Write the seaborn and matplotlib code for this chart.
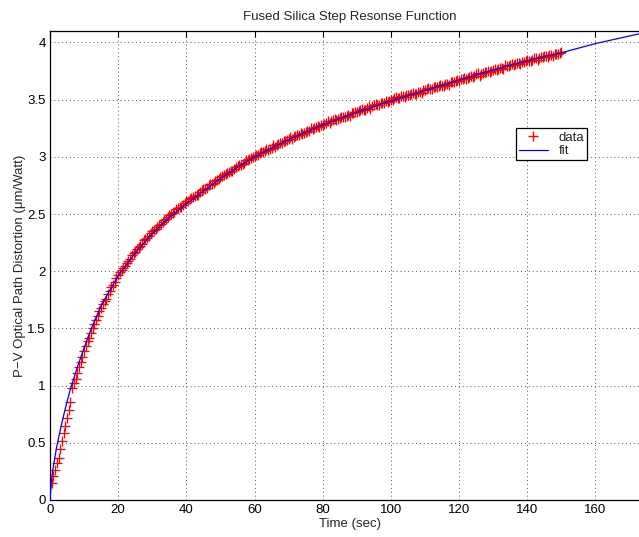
import numpy as np
import pandas as pd
import seaborn as sns
import matplotlib.pyplot as plt
from matplotlib.lines import Line2D

# measured step response, first pass of samples (t = 0.5 ... 149.5 s)
t_data_a = [0.5, 1.5, 2.5, 3.5, 4.5, 5.5, 6.5, 7.5, 8.5, 9.5,
            10.5, 11.5, 12.5, 13.5, 14.5, 15.5, 16.5, 17.5, 18.5, 19.5,
            20.5, 21.5, 22.5, 23.5, 24.5, 25.5, 26.5, 27.5, 28.5, 29.5,
            30.5, 31.5, 32.5, 33.5, 34.5, 35.5, 36.5, 37.5, 38.5, 39.5,
            40.5, 41.5, 42.5, 43.5, 44.5, 45.5, 46.5, 47.5, 48.5, 49.5,
            50.5, 51.5, 52.5, 53.5, 54.5, 55.5, 56.5, 57.5, 58.5, 59.5,
            60.5, 61.5, 62.5, 63.5, 64.5, 65.5, 66.5, 67.5, 68.5, 69.5,
            70.5, 71.5, 72.5, 73.5, 74.5, 75.5, 76.5, 77.5, 78.5, 79.5,
            80.5, 81.5, 82.5, 83.5, 84.5, 85.5, 86.5, 87.5, 88.5, 89.5,
            90.5, 91.5, 92.5, 93.5, 94.5, 95.5, 96.5, 97.5, 98.5, 99.5,
            100.5, 101.5, 102.5, 103.5, 104.5, 105.5, 106.5, 107.5, 108.5, 109.5,
            110.5, 111.5, 112.5, 113.5, 114.5, 115.5, 116.5, 117.5, 118.5, 119.5,
            120.5, 121.5, 122.5, 123.5, 124.5, 125.5, 126.5, 127.5, 128.5, 129.5,
            130.5, 131.5, 132.5, 133.5, 134.5, 135.5, 136.5, 137.5, 138.5, 139.5,
            140.5, 141.5, 142.5, 143.5, 144.5, 145.5, 146.5, 147.5, 148.5, 149.5]
y_data_a = [0.15, 0.26, 0.37, 0.52, 0.65, 0.79, 0.98, 1.06, 1.16, 1.25,
            1.35, 1.42, 1.50, 1.57, 1.65, 1.71, 1.76, 1.83, 1.88, 1.94,
            1.99, 2.03, 2.07, 2.11, 2.16, 2.19, 2.22, 2.27, 2.29, 2.33,
            2.36, 2.39, 2.41, 2.45, 2.47, 2.50, 2.52, 2.55, 2.56, 2.60,
            2.61, 2.64, 2.66, 2.67, 2.71, 2.72, 2.75, 2.76, 2.79, 2.81,
            2.83, 2.85, 2.87, 2.88, 2.91, 2.93, 2.94, 2.97, 2.98, 3.00,
            3.02, 3.03, 3.04, 3.07, 3.07, 3.10, 3.10, 3.12, 3.14, 3.15,
            3.17, 3.17, 3.19, 3.21, 3.21, 3.23, 3.25, 3.25, 3.27, 3.28,
            3.29, 3.31, 3.31, 3.33, 3.33, 3.35, 3.35, 3.37, 3.38, 3.39,
            3.40, 3.42, 3.41, 3.44, 3.44, 3.46, 3.45, 3.47, 3.49, 3.49,
            3.50, 3.52, 3.51, 3.53, 3.54, 3.54, 3.56, 3.55, 3.57, 3.58,
            3.59, 3.59, 3.61, 3.61, 3.63, 3.62, 3.64, 3.65, 3.65, 3.67,
            3.68, 3.69, 3.69, 3.71, 3.71, 3.73, 3.72, 3.74, 3.75, 3.75,
            3.77, 3.77, 3.78, 3.80, 3.79, 3.81, 3.81, 3.82, 3.83, 3.84,
            3.84, 3.85, 3.86, 3.86, 3.87, 3.88, 3.89, 3.88, 3.90, 3.91]

# second pass of samples (t = 1 ... 150 s)
t_data_b = [1, 2, 3, 4, 5, 6, 7, 8, 9, 10,
            11, 12, 13, 14, 15, 16, 17, 18, 19, 20,
            21, 22, 23, 24, 25, 26, 27, 28, 29, 30,
            31, 32, 33, 34, 35, 36, 37, 38, 39, 40,
            41, 42, 43, 44, 45, 46, 47, 48, 49, 50,
            51, 52, 53, 54, 55, 56, 57, 58, 59, 60,
            61, 62, 63, 64, 65, 66, 67, 68, 69, 70,
            71, 72, 73, 74, 75, 76, 77, 78, 79, 80,
            81, 82, 83, 84, 85, 86, 87, 88, 89, 90,
            91, 92, 93, 94, 95, 96, 97, 98, 99, 100,
            101, 102, 103, 104, 105, 106, 107, 108, 109, 110,
            111, 112, 113, 114, 115, 116, 117, 118, 119, 120,
            121, 122, 123, 124, 125, 126, 127, 128, 129, 130,
            131, 132, 133, 134, 135, 136, 137, 138, 139, 140,
            141, 142, 143, 144, 145, 146, 147, 148, 149, 150]
y_data_b = [0.21, 0.32, 0.45, 0.59, 0.72, 0.86, 1.02, 1.11, 1.21, 1.30,
            1.39, 1.46, 1.54, 1.61, 1.68, 1.74, 1.80, 1.86, 1.91, 1.97,
            2.01, 2.05, 2.09, 2.14, 2.17, 2.21, 2.24, 2.28, 2.31, 2.35,
            2.37, 2.40, 2.43, 2.46, 2.49, 2.51, 2.54, 2.56, 2.58, 2.61,
            2.63, 2.65, 2.67, 2.69, 2.72, 2.73, 2.76, 2.77, 2.80, 2.82,
            2.84, 2.86, 2.88, 2.89, 2.92, 2.93, 2.95, 2.97, 2.99, 3.01,
            3.02, 3.04, 3.05, 3.06, 3.08, 3.09, 3.11, 3.12, 3.14, 3.16,
            3.16, 3.18, 3.19, 3.20, 3.22, 3.23, 3.24, 3.26, 3.26, 3.28,
            3.30, 3.30, 3.32, 3.32, 3.34, 3.35, 3.36, 3.36, 3.38, 3.39,
            3.41, 3.41, 3.43, 3.42, 3.45, 3.45, 3.47, 3.47, 3.48, 3.50,
            3.51, 3.51, 3.53, 3.52, 3.54, 3.55, 3.55, 3.57, 3.56, 3.58,
            3.60, 3.59, 3.61, 3.62, 3.62, 3.64, 3.63, 3.65, 3.66, 3.66,
            3.68, 3.68, 3.70, 3.70, 3.72, 3.71, 3.73, 3.74, 3.74, 3.76,
            3.76, 3.78, 3.77, 3.79, 3.80, 3.80, 3.82, 3.81, 3.83, 3.85,
            3.84, 3.86, 3.85, 3.87, 3.88, 3.87, 3.89, 3.90, 3.90, 3.92]

# fitted curve
t_fit = [0, 0.5, 1, 2, 3, 4, 5, 6, 8, 10, 12, 15, 20, 25, 30, 35, 40, 45, 50,
         55, 60, 70, 80, 90, 100, 110, 120, 130, 140, 150, 160, 175]
y_fit = [0, 0.19, 0.30, 0.47, 0.61, 0.74, 0.86, 0.97, 1.16, 1.33, 1.49, 1.70,
         1.96, 2.16, 2.33, 2.47, 2.59, 2.70, 2.81, 2.91, 3.00, 3.15, 3.28, 3.39,
         3.49, 3.58, 3.67, 3.76, 3.84, 3.91, 3.99, 4.09]

x_ticks = [0, 20, 40, 60, 80, 100, 120, 140, 160]
y_ticks = [0, 0.5, 1, 1.5, 2, 2.5, 3, 3.5, 4]
y_ticklabels = ['0', '0.5', '1', '1.5', '2', '2.5', '3', '3.5', '4']

sns.set_style("white")
plt.rcParams['font.family'] = ['Liberation Sans', 'DejaVu Sans']
fs = 9.5

df_data = pd.DataFrame({"t": t_data_a + t_data_b, "y": y_data_a + y_data_b})
df_fit = pd.DataFrame({"t": t_fit, "y": y_fit})

fig = plt.figure(figsize=(6.39, 5.37), dpi=100)
ax = fig.add_axes([50 / 639, 37 / 537, 600 / 639, 469 / 537])

sns.scatterplot(data=df_data, x="t", y="y", marker="+", color="red",
                edgecolor="red", s=45, linewidth=0.9, ax=ax, zorder=3, legend=False)
sns.lineplot(data=df_fit, x="t", y="y", color="blue", linewidth=0.9,
             ax=ax, zorder=4, legend=False)

ax.set_xlim(0, 176)
ax.set_ylim(0, 4.1)
ax.set_xticks(x_ticks)
ax.set_yticks(y_ticks)
ax.set_yticklabels(y_ticklabels)
ax.tick_params(direction="in", length=4, width=0.8, top=True, right=True,
               labelsize=fs, colors="black", pad=3)
ax.grid(True, linestyle=(0, (1, 3)), color="#555555", linewidth=0.7)
for s in ax.spines.values():
    s.set_color("black")
    s.set_linewidth(0.9)

ax.set_title("Fused Silica Step Resonse Function", fontsize=fs, pad=8)
ax.set_xlabel("Time (sec)", fontsize=fs, labelpad=1)
ax.set_ylabel("P\u2212V Optical Path Distortion (\u03bcm/Watt)", fontsize=fs, labelpad=1)

handles = [Line2D([], [], marker="+", color="red", linestyle="None",
                  markersize=7, markeredgewidth=1.0),
           Line2D([], [], color="blue", linewidth=0.9)]
leg = ax.legend(handles, ["data", "fit"], loc="upper left",
                bbox_to_anchor=(0.776, 0.793), frameon=True,
                fancybox=False, edgecolor="black", framealpha=1, fontsize=fs,
                handlelength=2.2, borderpad=0.25, labelspacing=0.1,
                handletextpad=0.8, borderaxespad=0)
leg.get_frame().set_linewidth(0.9)

fig.savefig("out.png", dpi=100)
